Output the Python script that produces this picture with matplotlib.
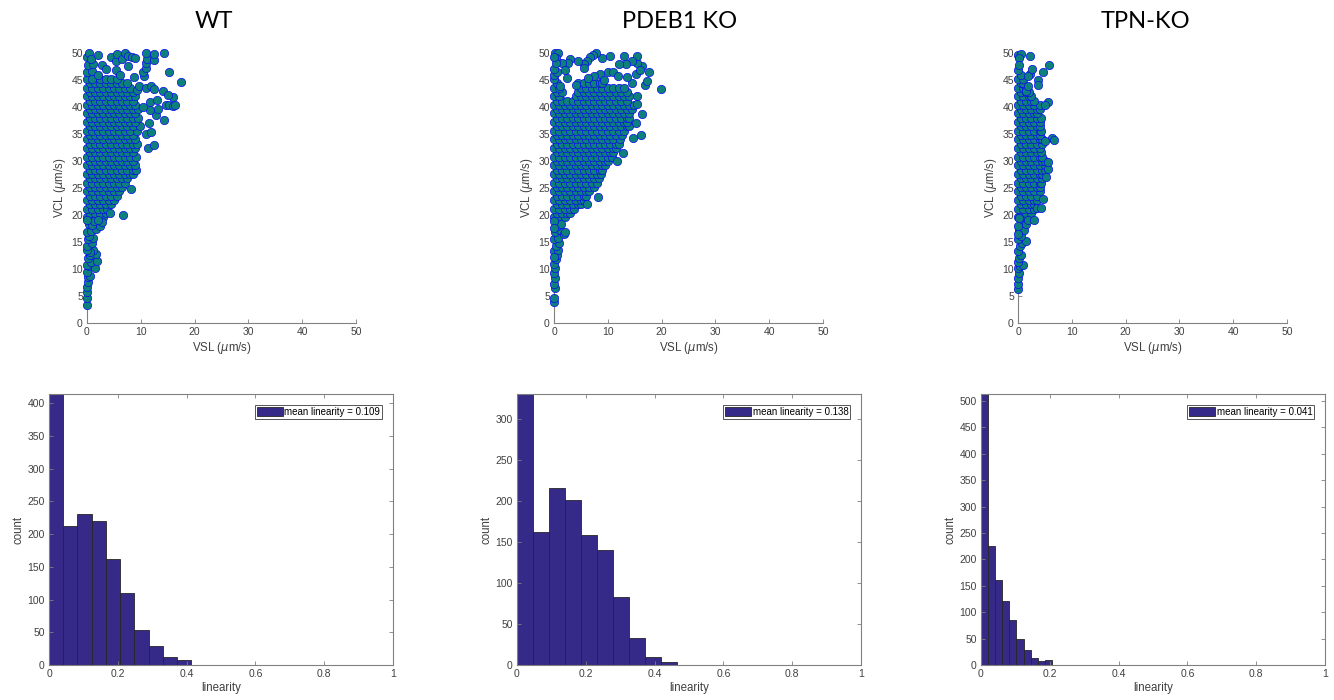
import numpy as np
import matplotlib.pyplot as plt

plt.rcParams['font.family'] = ['Liberation Sans', 'DejaVu Sans']
plt.rcParams['mathtext.fontset'] = 'dejavusans'

titles = ['WT', 'PDEB1 KO', 'TPN-KO']

# linearity histograms (10 bins each)
wt_counts = [414, 213, 230, 220, 162, 110, 54, 29, 12, 8]
pdeb1_counts = [331, 162, 216, 201, 159, 141, 83, 33, 10, 4]
tpn_counts = [513, 225, 161, 122, 86, 50, 28, 14, 7, 9]
bin_width = [0.0414, 0.0466, 0.0206]
mean_lin = [0.109, 0.138, 0.041]
count_max = [414, 331, 513]

# VSL / VCL scatter
# dense part as rows: (VCL, [VSL values])
wt_rows = [
    (19.6, [0, 1, 2, 3]),
    (20.4, [0.5, 1.5, 2.5, 3.5]),
    (21.2, [0, 1, 2, 3, 3.8]),
    (22.0, [0.5, 1.5, 2.5, 3.5, 4.5]),
    (22.8, [0, 1, 2, 3, 4, 5]),
    (23.6, [0.5, 1.5, 2.5, 3.5, 4.5, 5.5]),
    (24.4, [0, 1, 2, 3, 4, 5, 6]),
    (25.2, [0.5, 1.5, 2.5, 3.5, 4.5, 5.5, 6.5]),
    (26.0, [0, 1, 2, 3, 4, 5, 6, 7]),
    (26.8, [0.5, 1.5, 2.5, 3.5, 4.5, 5.5, 6.5, 7.5]),
    (27.6, [0, 1, 2, 3, 4, 5, 6, 7, 8, 8.6]),
    (28.4, [0.5, 1.5, 2.5, 3.5, 4.5, 5.5, 6.5, 7.5, 8.5, 9.2]),
    (29.2, [0, 1, 2, 3, 4, 5, 6, 7, 8, 9]),
    (30.0, [0.5, 1.5, 2.5, 3.5, 4.5, 5.5, 6.5, 7.5, 8.5]),
    (30.8, [0, 1, 2, 3, 4, 5, 6, 7, 8, 9.2]),
    (31.6, [0.5, 1.5, 2.5, 3.5, 4.5, 5.5, 6.5, 7.5, 8.5]),
    (32.4, [0, 1, 2, 3, 4, 5, 6, 7, 8, 9]),
    (33.2, [0.5, 1.5, 2.5, 3.5, 4.5, 5.5, 6.5, 7.5, 8.5, 9.3]),
    (34.0, [0, 1, 2, 3, 4, 5, 6, 7, 8, 9]),
    (34.8, [0.5, 1.5, 2.5, 3.5, 4.5, 5.5, 6.5, 7.5, 8.5]),
    (35.6, [0, 1, 2, 3, 4, 5, 6, 7, 8, 9.3]),
    (36.4, [0.5, 1.5, 2.5, 3.5, 4.5, 5.5, 6.5, 7.5, 8.5, 9.8]),
    (37.2, [0, 1, 2, 3, 4, 5, 6, 7, 8, 9]),
    (38.0, [0.5, 1.5, 2.5, 3.5, 4.5, 5.5, 6.5, 7.5, 8.5, 9.5]),
    (38.8, [0, 1, 2, 3, 4, 5, 6, 7, 8, 9]),
    (39.6, [0.5, 1.5, 2.5, 3.5, 4.5, 5.5, 6.5, 7.5, 8.5, 9.5]),
    (40.4, [0, 1, 2, 3, 4, 5, 6, 7, 8, 9]),
    (41.2, [0.5, 1.5, 2.5, 3.5, 4.5, 5.5, 6.5, 7.5, 8.5]),
    (42.0, [0, 1, 2, 3, 4, 5, 6, 7, 8, 9]),
    (42.8, [0.5, 1.5, 2.5, 3.5, 4.5, 5.5, 6.5, 7.5, 8.5]),
    (43.6, [0, 1, 2, 3, 4, 5, 6, 7, 8]),
    (44.4, [0.5, 1.5, 2.5, 3.5, 4.5, 5.5, 6.5, 7.5]),
    (45.2, [0, 1, 2.5, 3.5, 4.5, 5.5]),
]
wt_extra = [
    (0, 3.3), (0, 4.6), (0, 5.7), (0, 6.6), (0.1, 7.6), (0.2, 8.6), (0.6, 8.7),
    (0, 9.4), (0.3, 10.5), (1.4, 10.1), (0, 10.8), (0.8, 11.3), (1.8, 11.4),
    (0.2, 12.0), (0.6, 12.6), (1.7, 12.8), (1.2, 13.6), (0.5, 13.2), (0, 13.5),
    (0, 14.2), (0.9, 14.8), (0.2, 15.6), (1.2, 15.8), (0.4, 16.2), (0, 16.8),
    (0.8, 17.0), (1.6, 17.4), (2.4, 18.0), (0.3, 18.3), (1.0, 18.2), (1.3, 18.9),
    (2.8, 18.7), (2.0, 19.0), (0, 19.0),
    (6.7, 20.0), (4.3, 20.3), (8.2, 24.9), (11.3, 32.4), (12.4, 33.0), (11.0, 35.0),
    (11.9, 35.4), (11.5, 37.0), (14.3, 37.5), (12.8, 38.6), (11.7, 39.4), (13.2, 39.6),
    (10.5, 40.0), (14.7, 40.4), (15.3, 40.4), (15.9, 40.2), (16.4, 40.3), (11.8, 41.0),
    (13.0, 41.3), (16.0, 41.9), (9.3, 43.2), (14.2, 42.9), (15.0, 42.3), (9.7, 43.8),
    (11.0, 43.5), (11.9, 43.9), (12.4, 43.4), (17.5, 44.6), (8.8, 45.5), (10.6, 45.7),
    (0, 46.5), (1.0, 46.6), (0.2, 47.8), (1.1, 47.9), (0, 49.2), (0.3, 50.0),
    (0.7, 48.9), (2.0, 46.0), (2.7, 47.8), (3.6, 47.0), (2.1, 49.6), (4.4, 49.2),
    (5.3, 48.6), (5.5, 49.8), (5.4, 46.8), (6.2, 46.0), (6.5, 48.8), (7.0, 50.0),
    (7.6, 47.5), (7.6, 49.5), (8.3, 49.3), (8.9, 49.0), (10.5, 46.5), (11.0, 47.3),
    (10.9, 48.2), (11.2, 48.8), (12.5, 48.7), (10.9, 50.0), (12.5, 49.8), (14.3, 50.0),
    (15.2, 46.5),
]

pdeb1_rows = [
    (19.6, [0, 1, 2]),
    (20.4, [0.5, 1.5, 2.5, 3]),
    (21.2, [0, 1, 2, 3, 3.8]),
    (22.0, [0.5, 1.5, 2.5, 3.5, 4.5, 5]),
    (22.8, [0, 1, 2, 3, 4, 5, 5.5]),
    (23.6, [0.5, 1.5, 2.5, 3.5, 4.5, 5.5, 6]),
    (24.4, [0, 1, 2, 3, 4, 5, 6, 6.5]),
    (25.2, [0.5, 1.5, 2.5, 3.5, 4.5, 5.5, 6.5, 7.5]),
    (26.0, [0, 1, 2, 3, 4, 5, 6, 7, 8]),
    (26.8, [0.5, 1.5, 2.5, 3.5, 4.5, 5.5, 6.5, 7.5, 8.4]),
    (27.6, [0, 1, 2, 3, 4, 5, 6, 7, 8, 8.8]),
    (28.4, [0.5, 1.5, 2.5, 3.5, 4.5, 5.5, 6.5, 7.5, 8.5, 9]),
    (29.2, [0, 1, 2, 3, 4, 5, 6, 7, 8, 9, 9.4]),
    (30.0, [0.5, 1.5, 2.5, 3.5, 4.5, 5.5, 6.5, 7.5, 8.5, 9.5, 10]),
    (30.8, [0, 1, 2, 3, 4, 5, 6, 7, 8, 9, 10, 10.8]),
    (31.6, [0.5, 1.5, 2.5, 3.5, 4.5, 5.5, 6.5, 7.5, 8.5, 9.5, 10.5, 11]),
    (32.4, [0, 1, 2, 3, 4, 5, 6, 7, 8, 9, 10, 11, 11.5]),
    (33.2, [0.5, 1.5, 2.5, 3.5, 4.5, 5.5, 6.5, 7.5, 8.5, 9.5, 10.5, 11.5, 12]),
    (34.0, [0, 1, 2, 3, 4, 5, 6, 7, 8, 9, 10, 11, 12.2]),
    (34.8, [0.5, 1.5, 2.5, 3.5, 4.5, 5.5, 6.5, 7.5, 8.5, 9.5, 10.5, 11.5, 12.6]),
    (35.6, [0, 1, 2, 3, 4, 5, 6, 7, 8, 9, 10, 11, 12, 13]),
    (36.4, [0.5, 1.5, 2.5, 3.5, 4.5, 5.5, 6.5, 7.5, 8.5, 9.5, 10.5, 11.5, 12.5, 13.5, 14]),
    (37.2, [0, 1, 2, 3, 4, 5, 6, 7, 8, 9, 10, 11, 12, 13, 13.5]),
    (38.0, [0.5, 1.5, 2.5, 3.5, 4.5, 5.5, 6.5, 7.5, 8.5, 9.5, 10.5, 11.5, 12.5, 13.5, 14]),
    (38.8, [0, 1, 2, 3, 4, 5, 6, 7, 8, 9, 10, 11, 12, 13, 14]),
    (39.6, [0.5, 1.5, 2.5, 3.5, 4.5, 5.5, 6.5, 7.5, 8.5, 9.5, 10.5, 11.5, 12.5, 13.5, 14.5]),
    (40.4, [0, 1, 2, 3, 4, 5, 6, 7, 8, 9, 10, 11, 12, 13, 14, 14.8]),
    (41.2, [0.5, 1.5, 2.5, 3.5, 4.5, 5.5, 6.5, 7.5, 8.5, 9.5, 10.5, 11.5, 12.5, 13.5]),
    (42.0, [0, 1, 4, 5, 6, 7, 8, 9, 10, 11, 12, 13, 14]),
    (42.8, [0.5, 1.5, 4.5, 5.5, 6.5, 7.5, 8.5, 9.5, 10.5, 11.5, 12.5, 13.5]),
    (43.6, [0, 1, 5, 6, 7, 8, 9, 10, 11, 12, 13]),
    (44.4, [0.5, 4.5, 5.5, 6.5, 7.5, 8.5, 9]),
    (45.2, [0]),
]
pdeb1_extra = [
    (0, 3.8), (0, 4.6), (0.1, 6.5), (0, 7.3), (0.1, 8.3), (0, 9.3), (0.2, 10.2),
    (0, 11.0), (0.3, 11.8), (0.5, 12.5), (0, 13.3), (0.8, 13.5), (0.3, 14.3),
    (1.0, 14.8), (0, 15.5), (0.7, 15.8), (0.2, 16.8), (1.2, 17.2), (1.9, 16.5),
    (2.0, 16.9), (0.5, 18.0), (1.3, 18.4), (0, 18.8), (0, 17.5), (0, 12.2),
    (6.2, 22.0), (8.1, 23.3), (11.8, 30.0), (12.8, 31.4), (14.6, 34.3), (16.1, 34.9),
    (15.2, 37.1), (16.3, 38.7), (15.5, 40.5), (15.4, 42.0), (19.8, 43.4),
    (14.5, 44.5), (17.0, 44.0), (17.2, 44.9), (17.7, 46.5), (16.3, 47.5), (15.5, 48.2),
    (15.4, 49.5), (14.5, 48.5), (13.0, 49.4), (13.3, 48.0), (12.0, 48.0), (10.5, 49.5),
    (8.9, 49.0), (7.8, 50.0), (7.3, 49.6), (6.6, 49.3), (6.2, 48.6), (5.6, 48.0),
    (4.5, 48.6), (3.0, 48.8), (2.6, 48.2), (1.4, 48.1), (0.2, 50.0), (0.8, 50.0),
    (0.4, 49.0), (4.1, 44.0), (2.5, 45.3), (2.1, 46.8), (1.2, 43.8), (13.5, 45.5),
    (15.2, 46.2), (16.0, 46.8), (10.0, 46.5), (11.0, 46.5), (11.9, 45.8), (8.5, 46.2),
    (7.5, 45.8), (9.3, 45.0), (6.3, 45.3), (5.6, 47.2), (0, 45.9), (0.5, 46.5),
    (0, 47.1), (0.4, 48.2), (0, 49.3),
]

tpn_rows = [
    (19.6, [0, 1, 2]),
    (20.4, [0.5, 1.5, 2.5]),
    (21.2, [0, 1, 2, 3]),
    (22.0, [0.5, 1.5, 2.5, 3]),
    (22.8, [0, 1, 2, 3, 3.5]),
    (23.6, [0.5, 1.5, 2.5, 3.5]),
    (24.4, [0, 1, 2, 3, 4]),
    (25.2, [0.5, 1.5, 2.5, 3.5, 4]),
    (26.0, [0, 1, 2, 3, 4, 4.3]),
    (26.8, [0.5, 1.5, 2.5, 3.5, 4.4]),
    (27.6, [0, 1, 2, 3, 4, 4.5]),
    (28.4, [0.5, 1.5, 2.5, 3.5, 4.5, 5]),
    (29.2, [0, 1, 2, 3, 4, 5]),
    (30.0, [0.5, 1.5, 2.5, 3.5, 4.5, 5]),
    (30.8, [0, 1, 2, 3, 4, 4.5]),
    (31.6, [0.5, 1.5, 2.5, 3.5, 4.3]),
    (32.4, [0, 1, 2, 3, 4]),
    (33.2, [0.5, 1.5, 2.5, 3.5, 4.5]),
    (34.0, [0, 1, 2, 3, 4, 4.5]),
    (34.8, [0.5, 1.5, 2.5, 3.5, 4]),
    (35.6, [0, 1, 2, 3, 4, 4.3]),
    (36.4, [0.5, 1.5, 2.5, 3.5, 4]),
    (37.2, [0, 1, 2, 3, 4]),
    (38.0, [0.5, 1.5, 2.5, 3.5, 4.3]),
    (38.8, [0, 1, 2, 3, 3.5]),
    (39.6, [0.5, 1.5, 2.5, 3.5, 4]),
    (40.4, [0, 1, 2, 3, 4]),
    (41.2, [0.5, 1.5, 2.5, 3]),
    (42.0, [0, 1, 2, 2.5]),
    (42.8, [0.5, 1.5, 2]),
    (43.6, [0, 1, 1.5]),
    (44.4, [0.5, 1]),
    (45.2, [0, 1]),
    (46.0, [0.5]),
    (46.8, [0]),
]
tpn_extra = [
    (0, 6.3), (0, 7.3), (0, 8.3), (0.1, 9.2), (0, 10.1), (0.4, 10.5), (1.0, 10.8),
    (0, 11.3), (0.2, 12.0), (0.5, 12.5), (0, 13.3), (0.3, 14.3), (0.8, 14.9),
    (1.5, 15.2), (0, 15.5), (0.6, 16.2), (0.2, 17.3), (1.2, 17.2), (0.5, 18.5),
    (1.4, 18.3), (1.9, 19.0), (0.1, 19.5), (2.9, 19.0), (0, 16.4), (0, 18.0),
    (3.6, 21.3), (4.3, 21.3), (4.6, 22.9), (5.2, 27.0), (5.6, 28.5), (5.6, 29.8),
    (6.4, 34.3), (6.7, 33.8), (5.0, 33.7), (5.5, 41.0), (5.0, 40.3),
    (2.3, 49.4), (0, 49.7), (0.5, 49.8), (0.1, 49.0), (0.2, 47.8), (2.2, 46.2),
    (1.8, 45.8), (2.6, 47.0), (3.7, 45.0), (3.7, 44.0), (4.7, 46.5), (5.8, 47.8),
    (1.4, 43.0), (1.9, 43.8),
]


def to_xy(rows, extra):
    pts = [(x, y) for y, xs in rows for x in xs] + list(extra)
    pts = np.array(pts, dtype=float)
    return pts[:, 0], pts[:, 1]


scatter_data = [to_xy(wt_rows, wt_extra), to_xy(pdeb1_rows, pdeb1_extra),
                to_xy(tpn_rows, tpn_extra)]
hist_data = [wt_counts, pdeb1_counts, tpn_counts]

W, H = 1334, 700
fig = plt.figure(figsize=(W / 100, H / 100), dpi=100)

sc_left = [87, 554, 1018]
hist_left = [49, 517, 981]
title_x = [214, 680, 1145]
spine_col = '#808080'
text_col = '#404040'

for i in range(3):
    # scatter: VSL vs VCL
    ax = fig.add_axes([sc_left[i] / W, (H - 323) / H, 269 / W, 270 / H])
    vsl, vcl = scatter_data[i]
    ax.scatter(vsl, vcl, s=36, c='#0e807c', edgecolors='#0a0af0',
               linewidths=0.5, clip_on=False, zorder=3)
    ax.set_xlim(0, 50)
    ax.set_ylim(0, 50)
    ax.set_xticks(range(0, 51, 10))
    ax.set_yticks(range(0, 51, 5))
    for s in ['top', 'right']:
        ax.spines[s].set_visible(False)
    for s in ['left', 'bottom']:
        ax.spines[s].set_color(spine_col)
        ax.spines[s].set_linewidth(0.8)
    ax.tick_params(direction='in', length=3, width=0.6, color=spine_col,
                   labelsize=7.5, labelcolor=text_col, pad=3)
    ax.set_xlabel(r'VSL ($\mu$m/s)', fontsize=8.3, color=text_col, labelpad=2)
    ax.set_ylabel(r'VCL ($\mu$m/s)', fontsize=8.3, color=text_col, labelpad=2)

    fig.text(title_x[i] / W, 1 - 22 / H, titles[i], fontsize=17,
             family=['Lato', 'DejaVu Sans'], ha='center', va='center')

    # linearity histogram
    ax = fig.add_axes([hist_left[i] / W, 35 / H, 344 / W, 271 / H])
    counts = hist_data[i]
    edges = np.arange(len(counts)) * bin_width[i]
    ax.bar(edges, counts, width=bin_width[i], align='edge', color='#352a87',
           edgecolor='#262626', linewidth=0.6,
           label=f'mean linearity = {mean_lin[i]:.3f}')
    ax.set_xlim(0, 1)
    ax.set_ylim(0, count_max[i])
    ax.set_xticks([0, 0.2, 0.4, 0.6, 0.8, 1])
    ax.set_xticklabels(['0', '0.2', '0.4', '0.6', '0.8', '1'])
    ax.set_yticks(range(0, count_max[i] + 1, 50))
    for s in ax.spines.values():
        s.set_color(spine_col)
        s.set_linewidth(0.8)
    ax.tick_params(direction='in', length=3, width=0.6, color=spine_col,
                   top=True, right=True, labelsize=7.5, labelcolor=text_col, pad=3)
    ax.set_xlabel('linearity', fontsize=8.3, color=text_col, labelpad=2)
    ax.set_ylabel('count', fontsize=8.3, color=text_col, labelpad=2)
    leg = ax.legend(loc='upper right', fontsize=7, fancybox=False, framealpha=1,
                    edgecolor='#555555', handlelength=2.6, handleheight=1.0,
                    handletextpad=0.2, borderpad=0.2, borderaxespad=1.1)
    leg.get_frame().set_linewidth(0.7)

fig.savefig('out.png', dpi=100)
